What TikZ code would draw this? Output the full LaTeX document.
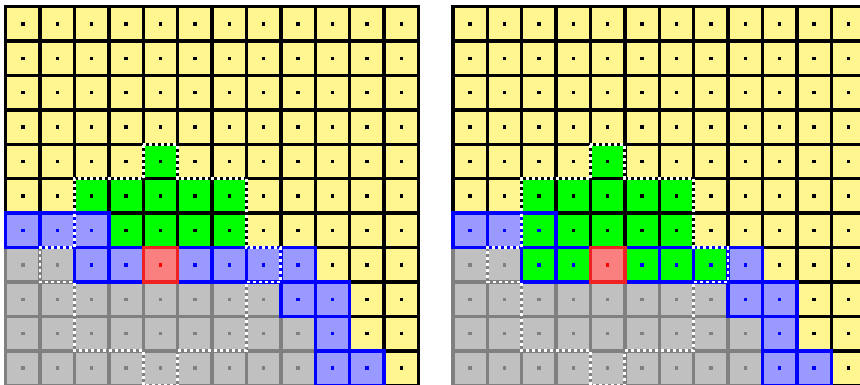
\documentclass[tikz,border=0pt]{standalone}
\definecolor{yel}{HTML}{FFF68F}
\definecolor{grn}{HTML}{00FF00}
\definecolor{bfill}{HTML}{9999FF}
\definecolor{bline}{HTML}{0000FF}
\definecolor{sfill}{HTML}{C0C0C0}
\definecolor{sline}{HTML}{808080}
\definecolor{rfill}{HTML}{FA8080}
\definecolor{rline}{HTML}{EE2222}
\tikzset{
  edgeline/.style={line width=3.4pt},
  loopline/.style={white, line width=2.8pt, dash pattern=on 3pt off 3pt},
}
% fill a set of cells
\newcommand\fillset[2]{\foreach \r/\cs in {#2}{\foreach \c in \cs {\fill[#1] (\c,\r) rectangle ++(1,1);}}}
% draw borders and centre dots of a set of cells
\newcommand\edgeset[3]{\foreach \r/\cs in {#3}{\foreach \c in \cs {%
  \draw[edgeline,#1] (\c,\r) rectangle ++(1,1);
  \fill[#2] (\c+0.5,\r+0.5) ++(-1.7pt,-1.7pt) rectangle ++(3.4pt,3.4pt);}}}
\newcommand\gridloop{\draw[loopline] (4,4) -- (5,4) -- (5,5) -- (7,5) -- (7,7) -- (8,7) -- (8,8) -- (7,8) -- (7,10) -- (5,10) -- (5,11) -- (4,11) -- (4,10) -- (2,10) -- (2,8) -- (1,8) -- (1,7) -- (2,7) -- (2,5) -- (4,5) -- cycle;}
\begin{document}
\begin{tikzpicture}
\useasboundingbox (0,0) rectangle (860pt,-385pt);
\clip (0,0) rectangle (860pt,-385pt);
\fill[white] (0,0) rectangle (860pt,-385pt);
% ---------- left grid ----------
\begin{scope}[shift={(5.6pt,-6.8pt)}, x=34.4pt, y=-34.4pt]
  \fill[yel] (0,0) rectangle (12,11);
  \fillset{grn}{4/{4}, 5/{2,...,6}, 6/{3,...,6}}
  \fillset{sfill}{7/{0,1}, 8/{0,...,7}, 9/{0,...,8}, 10/{0,...,8}}
  \fillset{bfill}{6/{0,1,2}, 7/{2,3,5,6,7,8}, 8/{8,9}, 9/{9}, 10/{9,10}}
  \fillset{rfill}{7/{4}}
  \edgeset{sline}{sline}{7/{0,1}, 8/{0,...,7}, 9/{0,...,8}, 10/{0,...,8}}
  \edgeset{black}{black}{0/{0,...,11}, 1/{0,...,11}, 2/{0,...,11}, 3/{0,...,11}, 4/{0,...,11}, 5/{0,...,11}, 6/{0,...,11}, 7/{2,...,11}, 8/{8,...,11}, 9/{9,10,11}, 10/{9,10,11}}
  \edgeset{bline}{bline}{6/{0,1,2}, 7/{2,3,5,6,7,8}, 8/{8,9}, 9/{9}, 10/{9,10}}
  \edgeset{rline}{red}{7/{4}}
  \gridloop
\end{scope}
% ---------- right grid ----------
\begin{scope}[shift={(452.8pt,-6.8pt)}, x=34.4pt, y=-34.4pt]
  \fill[yel] (0,0) rectangle (12,11);
  \fillset{grn}{4/{4}, 5/{2,...,6}, 6/{2,...,6}, 7/{2,3,5,6,7}}
  \fillset{sfill}{7/{0,1}, 8/{0,...,7}, 9/{0,...,8}, 10/{0,...,8}}
  \fillset{bfill}{6/{0,1}, 7/{8}, 8/{8,9}, 9/{9}, 10/{9,10}}
  \fillset{rfill}{7/{4}}
  \edgeset{sline}{sline}{7/{0,1}, 8/{0,...,7}, 9/{0,...,8}, 10/{0,...,8}}
  \edgeset{black}{black}{0/{0,...,11}, 1/{0,...,11}, 2/{0,...,11}, 3/{0,...,11}, 4/{0,...,11}, 5/{0,...,11}, 6/{0,...,11}, 7/{2,...,11}, 8/{8,...,11}, 9/{9,10,11}, 10/{9,10,11}}
  \edgeset{bline}{bline}{6/{0,1,2}, 7/{2,3,5,6,7,8}, 8/{8,9}, 9/{9}, 10/{9,10}}
  \edgeset{rline}{red}{7/{4}}
  \gridloop
\end{scope}
\end{tikzpicture}
\end{document}
